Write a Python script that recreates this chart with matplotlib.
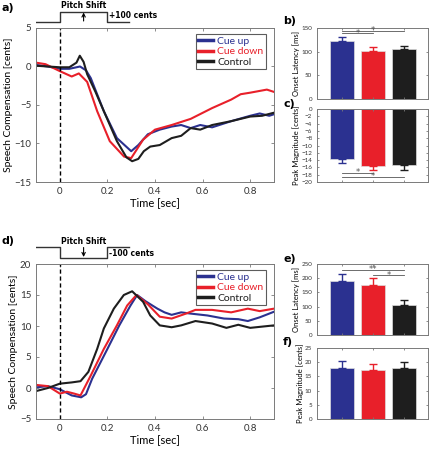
import numpy as np
import matplotlib
matplotlib.use("Agg")
import matplotlib.pyplot as plt

plt.rcParams['font.family'] = ['Lato', 'DejaVu Sans']

# ---- data ----
conds = ['Cue up', 'Cue down', 'Control']
colors = ['#2b3190', '#e8202a', '#1e1e1e']

# panel a (+100 cents shift)
a_blue_t = [-0.1, -0.05, 0, 0.04, 0.085, 0.11, 0.13, 0.185, 0.24, 0.30, 0.33, 0.37, 0.42,
            0.47, 0.51, 0.55, 0.59, 0.64, 0.72, 0.80, 0.84, 0.88, 0.9]
a_blue_v = [0.2, 0.0, -0.3, -0.3, 0.0, -0.5, -1.5, -5.8, -9.3, -11.0, -10.2, -8.8, -8.2,
            -7.8, -7.6, -8.0, -7.6, -7.9, -7.1, -6.4, -6.1, -6.4, -6.2]
a_red_t = [-0.1, -0.06, -0.02, 0, 0.05, 0.08, 0.115, 0.157, 0.21, 0.27, 0.30, 0.35, 0.40,
           0.47, 0.55, 0.64, 0.72, 0.76, 0.80, 0.87, 0.9]
a_red_v = [0.5, 0.3, -0.3, -0.6, -1.3, -0.9, -2.0, -5.8, -9.7, -11.7, -11.9, -9.5, -8.2,
           -7.6, -6.8, -5.4, -4.3, -3.6, -3.4, -3.0, -3.3]
a_black_t = [-0.1, -0.05, 0, 0.04, 0.07, 0.084, 0.1, 0.115, 0.15, 0.185, 0.24, 0.28, 0.304,
             0.33, 0.353, 0.38, 0.42, 0.47, 0.51, 0.55, 0.59, 0.64, 0.72, 0.80, 0.85, 0.9]
a_black_v = [0.1, 0.0, -0.1, -0.1, 0.5, 1.4, 0.6, -1.0, -3.3, -5.8, -9.7, -11.8, -12.3,
             -12.0, -11.0, -10.4, -10.2, -9.3, -9.0, -8.0, -8.2, -7.6, -7.1, -6.5, -6.4, -6.0]

# panel d (-100 cents shift)
d_blue_t = [-0.1, -0.05, 0, 0.05, 0.09, 0.11, 0.136, 0.2, 0.25, 0.297, 0.325, 0.36, 0.41,
            0.44, 0.47, 0.51, 0.55, 0.62, 0.69, 0.75, 0.79, 0.84, 0.9]
d_blue_v = [0.1, 0.3, -0.2, -1.2, -1.5, -1.0, 1.5, 6.3, 10.1, 13.3, 15.0, 14.0, 12.8,
            12.2, 11.8, 12.2, 12.0, 11.7, 11.2, 11.1, 10.8, 11.4, 12.3]
d_red_t = [-0.1, -0.05, 0, 0.03, 0.06, 0.087, 0.13, 0.185, 0.24, 0.283, 0.322, 0.37, 0.40,
           0.42, 0.47, 0.53, 0.57, 0.64, 0.72, 0.79, 0.84, 0.9]
d_red_v = [0.5, 0.3, -0.9, -0.6, -0.9, -1.2, 2.0, 6.3, 10.1, 13.3, 15.0, 13.5, 12.3,
           11.5, 11.2, 12.0, 12.6, 12.6, 12.2, 12.8, 12.4, 12.8]
d_black_t = [-0.1, -0.05, 0, 0.05, 0.087, 0.12, 0.157, 0.185, 0.227, 0.269, 0.304, 0.35,
             0.38, 0.42, 0.47, 0.51, 0.57, 0.64, 0.70, 0.75, 0.80, 0.9]
d_black_v = [-0.5, 0.0, 0.7, 0.9, 1.1, 2.6, 6.3, 9.6, 12.8, 15.0, 15.6, 13.9,
             11.7, 10.1, 9.8, 10.1, 10.8, 10.4, 9.7, 10.2, 9.7, 10.1]

# bar panels
b_vals = [122, 102, 105]
b_err = [8, 8, 7]
c_vals = [-13.7, -15.6, -15.3]
c_err = [1.1, 1.1, 1.3]
e_vals = [190, 175, 105]
e_err = [24, 26, 17]
f_vals = [17.8, 17.4, 17.8]
f_err = [2.5, 1.8, 2.3]

fig = plt.figure(figsize=(4.32, 4.51), dpi=100)
W, H = 432.0, 451.0


def ax_px(l, t, r, b):
    return fig.add_axes([l / W, 1 - b / H, (r - l) / W, (b - t) / H])


frame_col = '#7a7a7a'


def style(ax, fs):
    for s in ax.spines.values():
        s.set_color(frame_col)
        s.set_linewidth(0.7)
    ax.tick_params(direction='in', top=True, right=True, labelsize=fs,
                   color=frame_col, length=2.5, width=0.6, colors='#333333')


def line_panel(ax, series, ylim, yticks):
    for (t, v), c, lab in zip(series, colors, conds):
        ax.plot(t, v, color=c, lw=1.5, label=lab)
    ax.axvline(0, color='k', ls='--', lw=1, dashes=(3, 2))
    ax.set_xlim(-0.1, 0.9)
    ax.set_ylim(*ylim)
    ax.set_xticks([0, 0.2, 0.4, 0.6, 0.8])
    ax.set_xticklabels(['0', '0.2', '0.4', '0.6', '0.8'])
    ax.set_yticks(yticks)
    style(ax, 7)
    ax.set_xlabel('Time [sec]', fontsize=8, labelpad=1)
    ax.set_ylabel('Speech Compensation [cents]', fontsize=7.5, labelpad=1)
    leg = ax.legend(loc='upper right', bbox_to_anchor=(0.966, 0.96), borderaxespad=0,
                    fontsize=7.5, frameon=True, fancybox=False, handlelength=1.4,
                    handletextpad=0.4, borderpad=0.25, labelspacing=0.1)
    leg.get_frame().set_edgecolor('#333333')
    leg.get_frame().set_linewidth(0.8)
    for txt, c in zip(leg.get_texts(), colors):
        txt.set_color(c)
    for h in leg.legend_handles:
        h.set_linewidth(2.5)


def bar_panel(ax, vals, err, ylim, yticks, ylabel, down=False):
    x = np.arange(1, 4)
    bars = ax.bar(x, vals, width=0.77, color=colors, edgecolor='#dddddd', linewidth=0.5)
    for xi, v, e, c in zip(x, vals, err, colors):
        lo, hi = ([e], [0]) if down else ([0], [e])
        ax.errorbar(xi, v, yerr=[lo, hi], color=c, capsize=3, lw=1, capthick=1)
    ax.set_xlim(0.2, 3.76)
    ax.set_ylim(*ylim)
    ax.set_xticks(x)
    ax.set_xticklabels([])
    ax.set_yticks(yticks)
    style(ax, 4.5)
    ax.tick_params(length=1.5)
    ax.set_ylabel(ylabel, fontsize=5.5, labelpad=1)
    return bars


def sig(ax, x0, x1, y, txt):
    ax.plot([x0, x1], [y, y], color='#555555', lw=0.6, clip_on=False)
    ax.text((x0 + x1) / 2, y, txt, ha='center', va='center', fontsize=6, color='#555555',
            family='DejaVu Sans')


def schematic(l, t, r, b):
    ax = ax_px(l, t, r, b)
    ax.set_xlim(-0.1, 0.9)
    ax.set_ylim(b, t)
    ax.axis('off')
    return ax


arrow_kw = dict(arrowstyle='->', color='k', lw=0.8, mutation_scale=6, shrinkA=0, shrinkB=0)

# ---- panel a ----
ax_a = ax_px(36, 28, 274, 182)
line_panel(ax_a, [(a_blue_t, a_blue_v), (a_red_t, a_red_v), (a_black_t, a_black_v)],
           (-15, 5), [-15, -10, -5, 0, 5])

sa = schematic(36, 0, 274, 28)
sa.plot([-0.1, 0, 0, 0.2, 0.2, 0.29], [22, 22, 12, 12, 22, 22], color='#333333', lw=1)
sa.text(0.1, 6, 'Pitch Shift', ha='center', va='center', fontsize=5.5, fontweight='bold',
        family='DejaVu Sans')
sa.annotate('', xy=(0.1, 12.5), xytext=(0.1, 21), arrowprops=arrow_kw)
sa.text(0.208, 16, '+100 cents', ha='left', va='center', fontsize=5.5, fontweight='bold',
        family='DejaVu Sans')

# ---- panel d ----
ax_d = ax_px(36, 264, 274, 419)
line_panel(ax_d, [(d_blue_t, d_blue_v), (d_red_t, d_red_v), (d_black_t, d_black_v)],
           (-5, 20), [-5, 0, 5, 10, 15, 20])

sd = schematic(36, 232, 274, 264)
sd.plot([-0.1, 0, 0, 0.2, 0.2, 0.29], [247, 247, 258, 258, 247, 247], color='#333333', lw=1)
sd.text(0.1, 241, 'Pitch Shift', ha='center', va='center', fontsize=5.5, fontweight='bold',
        family='DejaVu Sans')
sd.annotate('', xy=(0.1, 257), xytext=(0.1, 247.5), arrowprops=arrow_kw)
sd.text(0.208, 253, '-100 cents', ha='left', va='center', fontsize=5.5, fontweight='bold',
        family='DejaVu Sans')

# ---- bar panels ----
ax_b = ax_px(317, 28, 428, 99)
bar_panel(ax_b, b_vals, b_err, (0, 150), [0, 50, 100, 150], 'Onset Latency [ms]')
sig(ax_b, 1, 3, 144, '*')
sig(ax_b, 1, 2, 138.5, '*')

ax_c = ax_px(317, 109, 428, 182)
bar_panel(ax_c, c_vals, c_err, (-20, 0), list(range(-20, 1, 2)), 'Peak Magnitude [cents]',
          down=True)
sig(ax_c, 1, 2, -17.5, '*')
sig(ax_c, 1, 3, -18.6, '*')

ax_e = ax_px(317, 264, 428, 335)
bar_panel(ax_e, e_vals, e_err, (0, 250), [0, 50, 100, 150, 200, 250], 'Onset Latency [ms]')
sig(ax_e, 1, 3, 229, '**')
sig(ax_e, 2, 3, 211, '*')

ax_f = ax_px(317, 348, 428, 419)
bar_panel(ax_f, f_vals, f_err, (0, 25), [0, 5, 10, 15, 20, 25], 'Peak Magnitude [cents]')

# panel letters
for lab, x, y in [('a)', 2, 8), ('b)', 283, 21), ('c)', 283, 104),
                  ('d)', 2, 241), ('e)', 283, 259), ('f)', 283, 342)]:
    fig.text(x / W, 1 - y / H, lab, fontsize=8, fontweight='bold', va='center',
             family='DejaVu Sans')

fig.savefig('out.png', dpi=100)
